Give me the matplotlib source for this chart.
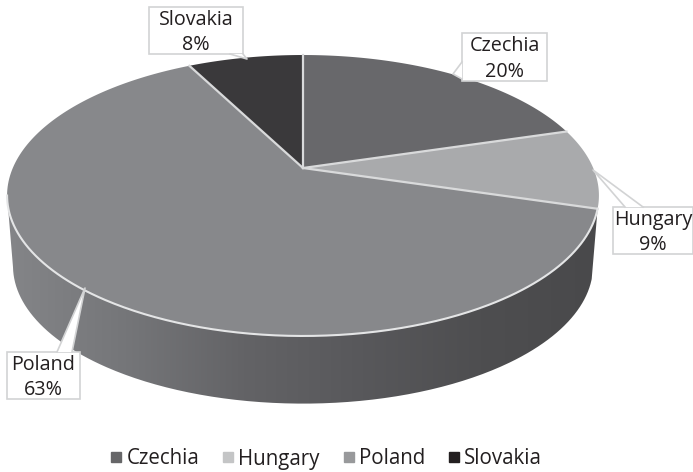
import numpy as np
import matplotlib
matplotlib.use("Agg")
import matplotlib.pyplot as plt
from matplotlib.colors import LinearSegmentedColormap
from matplotlib.lines import Line2D
from matplotlib.patches import PathPatch, Polygon, Rectangle
from matplotlib.path import Path

plt.rcParams['font.family'] = ['Open Sans', 'DejaVu Sans']

# Datos
countries = ["Czechia", "Hungary", "Poland", "Slovakia"]
shares = [20.4, 9.2, 62.8, 7.6]
top_colors = ["#68686b", "#a9aaac", "#87888b", "#3a393b"]
legend_colors = ["#666668", "#c4c5c6", "#98999b", "#231f20"]
wall_colors = ["#848588", "#757679", "#636366", "#58585b", "#4e4e50", "#49494b"]

# Perspectiva del disco (pixeles)
cx, cy = 303, 168
a, b, k = 290.2, 135.1, 0.1957
drop, shrink = 71, 0.98
ink = "#231f20"
line = "#d9dadb"


def project(theta):
    # theta en grados desde arriba, sentido horario
    t = np.radians(theta)
    u, v = np.sin(t), np.cos(t)
    d = 1 + k * v
    return a * u / d, -b * v / d


fig = plt.figure(figsize=(6.93, 4.72), dpi=100)
ax = fig.add_axes([0, 0, 1, 1])

# Angulos de cada porcion
edges = np.cumsum([0] + shares) / sum(shares) * 360
left_tangent = 258.7

# Pared lateral con degradado
wall_t = np.linspace(edges[2], left_tangent, 300)
X, Y = project(wall_t)
wall_x = np.concatenate([cx + X, cx + X[::-1] * shrink])
wall_y = np.concatenate([cy + Y, cy + Y[::-1] * shrink + drop])
wall_cmap = LinearSegmentedColormap.from_list("wall", wall_colors)
im = ax.imshow(np.linspace(0, 1, 256)[None, :], cmap=wall_cmap, aspect="auto",
               extent=[7, 600, 410, 190], zorder=1)
clip = PathPatch(Path(np.column_stack([wall_x, wall_y])), transform=ax.transData,
                 facecolor="none", edgecolor="none")
ax.add_patch(clip)
im.set_clip_path(clip)

# Cara superior
for i, share in enumerate(shares):
    t = np.linspace(edges[i], edges[i + 1], 200)
    X, Y = project(t)
    px = np.concatenate([[cx], cx + X])
    py = np.concatenate([[cy], cy + Y])
    ax.fill(px, py, color=top_colors[i], linewidth=0, zorder=2)

# Separadores
for e in edges[:-1]:
    X, Y = project(e)
    ax.plot([cx, cx + X], [cy, cy + Y], color=line, lw=1.6, zorder=3)

# Borde claro delantero
X, Y = project(wall_t)
ax.plot(cx + X, cy + Y, color="#e4e5e6", lw=1.5, zorder=3)

# Etiquetas: caja (x0, y0, x1, y1), punta y base de la flecha
boxes = [(462, 33, 547, 81), (613, 207, 693, 254), (7, 352, 80, 399), (149, 7, 243, 54)]
tips = [(453, 74), (593, 170), (85, 288), (247, 59)]
bases = [((462, 62), (462, 79)), ((625, 207), (643, 207)), ((57, 352), (72, 352)), ((230, 54), (243, 54))]
for i, name in enumerate(countries):
    x0, y0, x1, y1 = boxes[i]
    ax.add_patch(Rectangle((x0, y0), x1 - x0, y1 - y0, facecolor="white",
                           edgecolor="#d2d3d4", lw=1.2, zorder=4))
    b1, b2 = bases[i]
    ax.add_patch(Polygon([b1, tips[i], b2], closed=True, facecolor="white",
                         edgecolor="none", zorder=5))
    ax.plot([b1[0], tips[i][0], b2[0]], [b1[1], tips[i][1], b2[1]],
            color="#d2d3d4", lw=1.2, zorder=5)
    ax.text((x0 + x1) / 2, (y0 + y1) / 2 + 2, f"{name}\n{shares[i]:.0f}%", ha="center", va="center",
            fontsize=14.2, color=ink, linespacing=1.38, zorder=6)

# Leyenda
handles = [Line2D([], [], marker="s", ls="", ms=6.5, color=c) for c in legend_colors]
ax.legend(handles, countries, loc="center", bbox_to_anchor=(325 / 693, 1 - 459 / 472), ncol=4,
          frameon=False, fontsize=14.8, labelcolor=ink, handletextpad=0.1,
          columnspacing=1.0, handlelength=0.8, borderpad=0, borderaxespad=0)

ax.set_xlim(0, 693)
ax.set_ylim(472, 0)
ax.axis("off")

fig.savefig("out.png", dpi=100)
